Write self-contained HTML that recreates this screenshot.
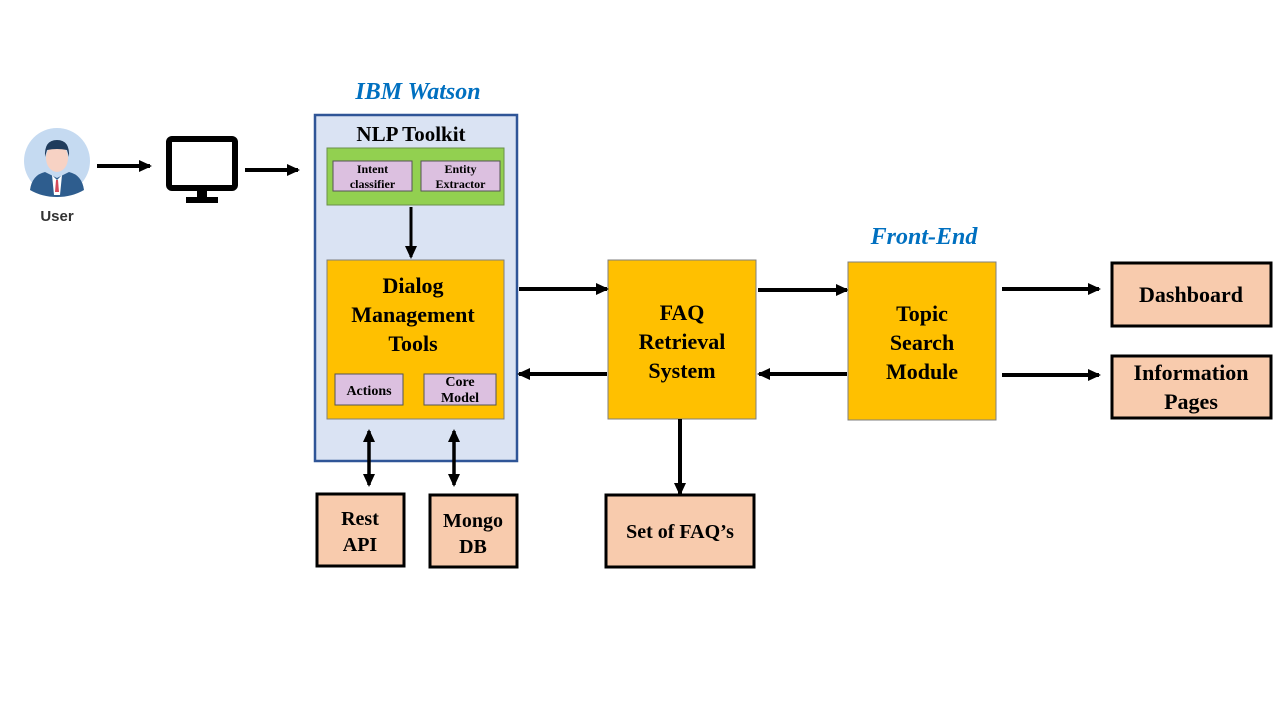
<!DOCTYPE html>
<html><head><meta charset="utf-8"><style>
html,body{margin:0;padding:0;background:#fff;}
svg{display:block;}
text{font-family:"Liberation Serif",serif;font-weight:bold;fill:#000;}
</style></head><body>
<svg width="1280" height="720" viewBox="0 0 1280 720" xmlns="http://www.w3.org/2000/svg">
<defs>
<marker id="ah" markerWidth="13" markerHeight="13" refX="11" refY="6.5" orient="auto" markerUnits="userSpaceOnUse">
<path d="M0,0.5 L13,6.5 L0,12.5 z" fill="#000"/></marker>
<marker id="as" markerWidth="13" markerHeight="13" refX="2" refY="6.5" orient="auto" markerUnits="userSpaceOnUse">
<path d="M13,0.5 L0,6.5 L13,12.5 z" fill="#000"/></marker>
</defs>
<!-- user icon -->
<circle cx="57" cy="161" r="33" fill="#c5daf1"/>
<path d="M30,190 Q32,175 45,172 L57,178 L69,172 Q82,175 84,190 Q72,197 57,197 Q42,197 30,190z" fill="#2e5d8e"/>
<path d="M52,175 L57,180 L62,175 L60,195 L54,195z" fill="#fff"/>
<path d="M56,180 L58,180 L59,192 L55,192z" fill="#d44a5a"/>
<ellipse cx="57" cy="158" rx="11" ry="14" fill="#f7d2c4"/>
<path d="M45,157 Q44,140 57,140 Q70,140 69,157 L67,150 Q57,148 47,150z" fill="#1f3b5c"/>
<text x="57" y="221" text-anchor="middle" font-size="15" style="font-family:'Liberation Sans',sans-serif;fill:#333">User</text>
<!-- monitor -->
<rect x="169" y="139" width="66" height="49" rx="3" fill="none" stroke="#000" stroke-width="6"/>
<rect x="197" y="190" width="10" height="8" fill="#000"/>
<rect x="186" y="197" width="32" height="6" fill="#000"/>
<g stroke="#000" stroke-width="4" fill="none">
<line x1="97" y1="166" x2="150" y2="166" marker-end="url(#ah)"/>
<line x1="245" y1="170" x2="298" y2="170" marker-end="url(#ah)"/>
</g>
<!-- IBM Watson -->
<text x="418" y="99" text-anchor="middle" font-size="24" font-style="italic" style="fill:#0070c0">IBM Watson</text>
<rect x="315" y="115" width="202" height="346" fill="#dae3f3" stroke="#2f5597" stroke-width="2.5"/>
<text x="411" y="141" text-anchor="middle" font-size="21">NLP Toolkit</text>
<rect x="327" y="148" width="177" height="57" fill="#92d050" stroke="#6a8f4a" stroke-width="1"/>
<rect x="333" y="161" width="79" height="30" fill="#dcc0e0" stroke="#555" stroke-width="1"/>
<rect x="421" y="161" width="79" height="30" fill="#dcc0e0" stroke="#555" stroke-width="1"/>
<text x="372.5" y="173" text-anchor="middle" font-size="12">Intent</text>
<text x="372.5" y="188" text-anchor="middle" font-size="12">classifier</text>
<text x="460.5" y="173" text-anchor="middle" font-size="12">Entity</text>
<text x="460.5" y="188" text-anchor="middle" font-size="12">Extractor</text>
<line x1="411" y1="207" x2="411" y2="257" stroke="#000" stroke-width="3" marker-end="url(#ah)"/>
<rect x="327" y="260" width="177" height="159" fill="#ffc000" stroke="#7f7f7f" stroke-width="1"/>
<text x="413" y="293" text-anchor="middle" font-size="22">Dialog</text>
<text x="413" y="322" text-anchor="middle" font-size="22">Management</text>
<text x="413" y="351" text-anchor="middle" font-size="22">Tools</text>
<rect x="335" y="374" width="68" height="31" fill="#dcc0e0" stroke="#555" stroke-width="1"/>
<rect x="424" y="374" width="72" height="31" fill="#dcc0e0" stroke="#555" stroke-width="1"/>
<text x="369" y="395" text-anchor="middle" font-size="14">Actions</text>
<text x="460" y="386" text-anchor="middle" font-size="14">Core</text>
<text x="460" y="402" text-anchor="middle" font-size="14">Model</text>
<g stroke="#000" stroke-width="3.5" fill="none">
<line x1="369" y1="431" x2="369" y2="485" marker-start="url(#as)" marker-end="url(#ah)"/>
<line x1="454" y1="431" x2="454" y2="485" marker-start="url(#as)" marker-end="url(#ah)"/>
</g>
<rect x="317" y="494" width="87" height="72" fill="#f8cbad" stroke="#000" stroke-width="3"/>
<text x="360" y="525" text-anchor="middle" font-size="20">Rest</text>
<text x="360" y="551" text-anchor="middle" font-size="20">API</text>
<rect x="430" y="495" width="87" height="72" fill="#f8cbad" stroke="#000" stroke-width="3"/>
<text x="473" y="527" text-anchor="middle" font-size="20">Mongo</text>
<text x="473" y="553" text-anchor="middle" font-size="20">DB</text>
<!-- FAQ -->
<rect x="608" y="260" width="148" height="159" fill="#ffc000" stroke="#7f7f7f" stroke-width="1"/>
<text x="682" y="320" text-anchor="middle" font-size="22">FAQ</text>
<text x="682" y="349" text-anchor="middle" font-size="22">Retrieval</text>
<text x="682" y="378" text-anchor="middle" font-size="22">System</text>
<g stroke="#000" stroke-width="4" fill="none">
<line x1="519" y1="289" x2="607" y2="289" marker-end="url(#ah)"/>
<line x1="607" y1="374" x2="519" y2="374" marker-end="url(#ah)"/>
<line x1="680" y1="419" x2="680" y2="494" marker-end="url(#ah)"/>
<line x1="758" y1="290" x2="847" y2="290" marker-end="url(#ah)"/>
<line x1="847" y1="374" x2="759" y2="374" marker-end="url(#ah)"/>
<line x1="1002" y1="289" x2="1099" y2="289" marker-end="url(#ah)"/>
<line x1="1002" y1="375" x2="1099" y2="375" marker-end="url(#ah)"/>
</g>
<rect x="606" y="495" width="148" height="72" fill="#f8cbad" stroke="#000" stroke-width="3"/>
<text x="680" y="538" text-anchor="middle" font-size="20">Set of FAQ’s</text>
<!-- Front-end -->
<text x="924" y="244" text-anchor="middle" font-size="24" font-style="italic" style="fill:#0070c0">Front-End</text>
<rect x="848" y="262" width="148" height="158" fill="#ffc000" stroke="#7f7f7f" stroke-width="1"/>
<text x="922" y="321" text-anchor="middle" font-size="22">Topic</text>
<text x="922" y="350" text-anchor="middle" font-size="22">Search</text>
<text x="922" y="379" text-anchor="middle" font-size="22">Module</text>
<rect x="1112" y="263" width="159" height="63" fill="#f8cbad" stroke="#000" stroke-width="3"/>
<text x="1191" y="302" text-anchor="middle" font-size="22">Dashboard</text>
<rect x="1112" y="356" width="159" height="62" fill="#f8cbad" stroke="#000" stroke-width="3"/>
<text x="1191" y="380" text-anchor="middle" font-size="22">Information</text>
<text x="1191" y="409" text-anchor="middle" font-size="22">Pages</text>
</svg>
</body></html>
